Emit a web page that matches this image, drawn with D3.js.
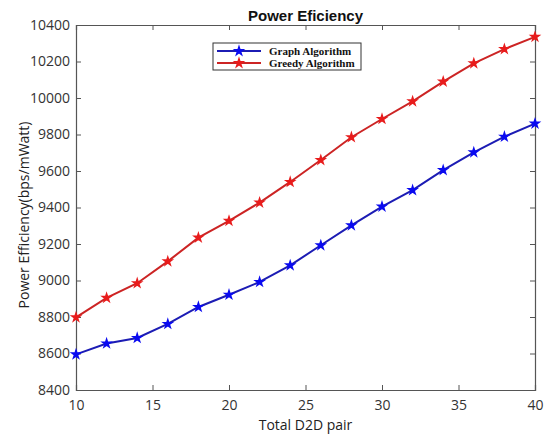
<!DOCTYPE html>
<html>
<head>
<meta charset="utf-8">
<script src="https://cdn.jsdelivr.net/npm/d3@7"></script>
<style>
  body { margin: 0; background: #fff; }
  svg { display: block; }
</style>
</head>
<body>
<div id="chart"></div>
<script>
'use strict';

const pairs = [10, 12, 14, 16, 18, 20, 22, 24, 26, 28, 30, 32, 34, 36, 38, 40];
const graphAlgo = [8595, 8655, 8685, 8762, 8855, 8922, 8992, 9083, 9193, 9302, 9405, 9495, 9605, 9702, 9788, 9860];
const greedyAlgo = [8798, 8905, 8985, 9105, 9235, 9327, 9427, 9540, 9660, 9785, 9885, 9982, 10090, 10190, 10268, 10335];
const xTicks = [10, 15, 20, 25, 30, 35, 40];
const yTicks = [8400, 8600, 8800, 9000, 9200, 9400, 9600, 9800, 10000, 10200, 10400];

const series = [
    {name: 'Graph Algorithm', values: graphAlgo, line: '#1c1cb4', mark: '#0a0af0'},
    {name: 'Greedy Algorithm', values: greedyAlgo, line: '#cc2424', mark: '#e81c1c'}
];

const width = 548, height = 434;
const margin = {top: 25, right: 13, bottom: 44, left: 76};

const svg = d3.select('#chart').append('svg')
    .attr('width', width).attr('height', height);

const x = d3.scaleLinear().domain([10, 40]).range([margin.left, width - margin.right]);
const y = d3.scaleLinear().domain([8400, 10400]).range([height - margin.bottom, margin.top]);

const axisColor = '#555';
const labelFont = '"Open Sans", "Liberation Sans", Arial, sans-serif';

// axes, ticks pointing inward, box closed on all four sides
const gx = svg.append('g').attr('transform', `translate(0,${y(8400)})`)
    .call(d3.axisBottom(x).tickValues(xTicks).tickSize(-5).tickPadding(10).tickFormat(d3.format('d')));
const gxTop = svg.append('g').attr('transform', `translate(0,${y(10400)})`)
    .call(d3.axisTop(x).tickValues(xTicks).tickSize(-5).tickFormat(''));
const gy = svg.append('g').attr('transform', `translate(${x(10)},0)`)
    .call(d3.axisLeft(y).tickValues(yTicks).tickSize(-5).tickPadding(6).tickFormat(d3.format('d')));
const gyRight = svg.append('g').attr('transform', `translate(${x(40)},0)`)
    .call(d3.axisRight(y).tickValues(yTicks).tickSize(-5).tickFormat(''));

[gx, gxTop, gy, gyRight].forEach(g => {
    g.select('.domain').attr('stroke', axisColor).attr('stroke-width', 1.2);
    g.selectAll('.tick line').attr('stroke', axisColor);
    g.selectAll('.tick text').attr('fill', '#333').style('font-family', labelFont).style('font-size', '14px');
});

// lines + markers
const line = d3.line().x((d, i) => x(pairs[i])).y(d => y(d));
const star = d3.symbol().type(d3.symbolStar).size(20);

series.forEach(s => {
    svg.append('path').datum(s.values)
        .attr('d', line).attr('fill', 'none')
        .attr('stroke', s.line).attr('stroke-width', 2);
    svg.append('g').selectAll('path').data(s.values).join('path')
        .attr('transform', (d, i) => `translate(${x(pairs[i])},${y(d)})`)
        .attr('d', star).attr('fill', s.mark).attr('stroke', s.mark).attr('stroke-width', 1.5);
});

// title
svg.append('text')
    .attr('x', (x(10) + x(40)) / 2).attr('y', 21)
    .attr('text-anchor', 'middle')
    .style('font-family', '"Liberation Sans", Arial, sans-serif')
    .style('font-weight', 'bold').style('font-size', '15px')
    .attr('fill', '#111').text('Power Eficiency');

// axis labels
svg.append('text')
    .attr('x', (x(10) + x(40)) / 2).attr('y', 430)
    .attr('text-anchor', 'middle')
    .style('font-family', labelFont).style('font-size', '14px')
    .attr('fill', '#222').text('Total D2D pair');

svg.append('text')
    .attr('transform', `translate(29,215) rotate(-90)`)
    .attr('text-anchor', 'middle')
    .style('font-family', labelFont).style('font-size', '14px')
    .attr('fill', '#222').text('Power Efficiency(bps/mWatt)');

// legend
const legend = svg.append('g').attr('transform', 'translate(213,43)');
legend.append('rect').attr('width', 148).attr('height', 27)
    .attr('fill', '#fff').attr('stroke', '#333').attr('stroke-width', 1);

series.forEach((s, i) => {
    const row = legend.append('g').attr('transform', `translate(0,${8 + i * 12})`);
    row.append('line').attr('x1', 4).attr('x2', 48).attr('stroke', s.line).attr('stroke-width', 2);
    row.append('path').attr('transform', 'translate(26,0)').attr('d', star)
        .attr('fill', s.mark).attr('stroke', s.mark).attr('stroke-width', 1.5);
    row.append('text').attr('x', 56).attr('dy', '0.35em')
        .style('font-family', '"Liberation Serif", "Times New Roman", serif')
        .style('font-weight', 'bold').style('font-size', '11px')
        .attr('fill', '#111').text(s.name);
});
</script>
</body>
</html>
